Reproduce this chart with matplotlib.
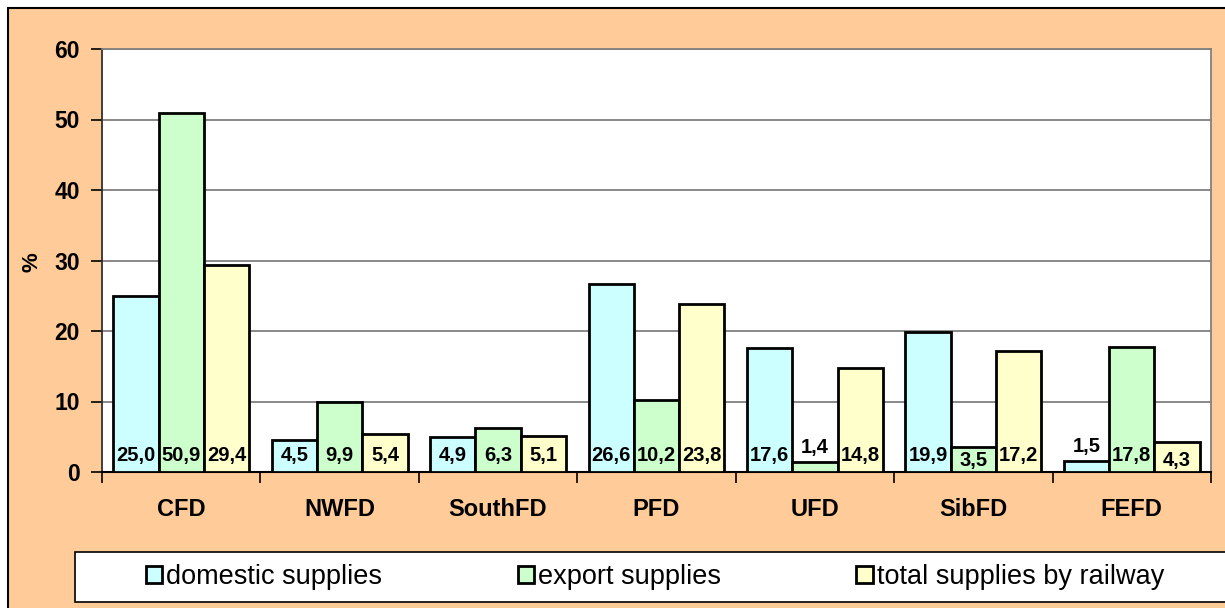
import matplotlib
matplotlib.use('Agg')
import matplotlib.pyplot as plt
from matplotlib.patches import Rectangle
import numpy as np

plt.rcParams['font.family'] = ['Liberation Sans', 'DejaVu Sans']

categories = ['CFD', 'NWFD', 'SouthFD', 'PFD', 'UFD', 'SibFD', 'FEFD']
domestic = [25.0, 4.5, 4.9, 26.6, 17.6, 19.9, 1.5]
export = [50.9, 9.9, 6.3, 10.2, 1.4, 3.5, 17.8]
total = [29.4, 5.4, 5.1, 23.8, 14.8, 17.2, 4.3]
series_names = ['domestic supplies', 'export supplies', 'total supplies by railway']
colors = ['#CCFFFF', '#CCFFCC', '#FFFFCC']

W, H = 1225, 608
fig = plt.figure(figsize=(W / 100, H / 100), dpi=100)
fig.patch.set_facecolor('white')

# peach chart area with black border (clipped right/bottom)
fig.patches.append(Rectangle((8 / W, -0.1), 1.2, 1 - 8 / H + 0.1,
                             transform=fig.transFigure, facecolor='#FFCC99',
                             edgecolor='black', linewidth=1.5, zorder=-2))

ax = fig.add_axes([102 / W, 1 - 472 / H, (1211 - 102) / W, (472 - 49) / H])
ax.set_facecolor('white')
ax.set_zorder(1)

x = np.arange(len(categories))
bw = 0.286
containers = []
for i, vals in enumerate([domestic, export, total]):
    bars = ax.bar(x + (i - 1) * bw, vals, width=bw, color=colors[i],
                  edgecolor='black', linewidth=2, zorder=3, label=series_names[i])
    containers.append(bars)
    # labels sit at the bar base, pushed up for very short bars
    for xi, v in zip(x, vals):
        if v < 2:
            yy = v + 2.1
        elif v < 4.5:
            yy = 1.6
        else:
            yy = 2.4
        ax.text(xi + (i - 1) * bw, yy, f'{v:.1f}'.replace('.', ','),
                ha='center', va='center', fontsize=14.5, fontweight='bold', zorder=4)

ax.set_xlim(-0.5, len(categories) - 0.5)
ax.set_ylim(0, 60)
ax.set_yticks(np.arange(0, 61, 10))
ax.yaxis.grid(True, color='#808080', linewidth=1.3, zorder=0)
ax.set_axisbelow(True)

# category boundaries as major ticks, labels on minor ticks
ax.set_xticks(np.arange(len(categories) + 1) - 0.5)
ax.set_xticklabels([])
ax.set_xticks(x, minor=True)
ax.set_xticklabels(categories, minor=True, fontsize=17, fontweight='bold')
ax.tick_params(axis='x', which='major', direction='out', length=8, width=1.2, color='black')
ax.tick_params(axis='x', which='minor', length=0, pad=19)
ax.tick_params(axis='y', direction='out', length=8, width=1.2, color='black',
               labelsize=16.5, pad=8)
for lab in ax.get_yticklabels():
    lab.set_fontweight('bold')

for s in ['top', 'right']:
    ax.spines[s].set_color('#808080')
    ax.spines[s].set_linewidth(1.3)
ax.spines['left'].set_color('#303030')
ax.spines['left'].set_linewidth(1.3)
ax.spines['bottom'].set_color('black')
ax.spines['bottom'].set_linewidth(1.5)

fig.text(32 / W, 1 - 262 / H, '%', rotation=90, ha='center', va='center',
         fontsize=16, fontweight='bold')

# legend box
fig.patches.append(Rectangle((75 / W, 1 - 602 / H), 1.2, 50 / H,
                             transform=fig.transFigure, facecolor='white',
                             edgecolor='black', linewidth=1.2, zorder=-1))
leg = fig.legend(handles=containers, labels=series_names, loc='center',
                 bbox_to_anchor=(655 / W, 1 - 577 / H), ncol=3, frameon=False,
                 fontsize=19.5, handlelength=0.6, handleheight=0.6,
                 handletextpad=0.15, columnspacing=5.0)
leg.set_zorder(2)

fig.savefig('out.png', dpi=100)
